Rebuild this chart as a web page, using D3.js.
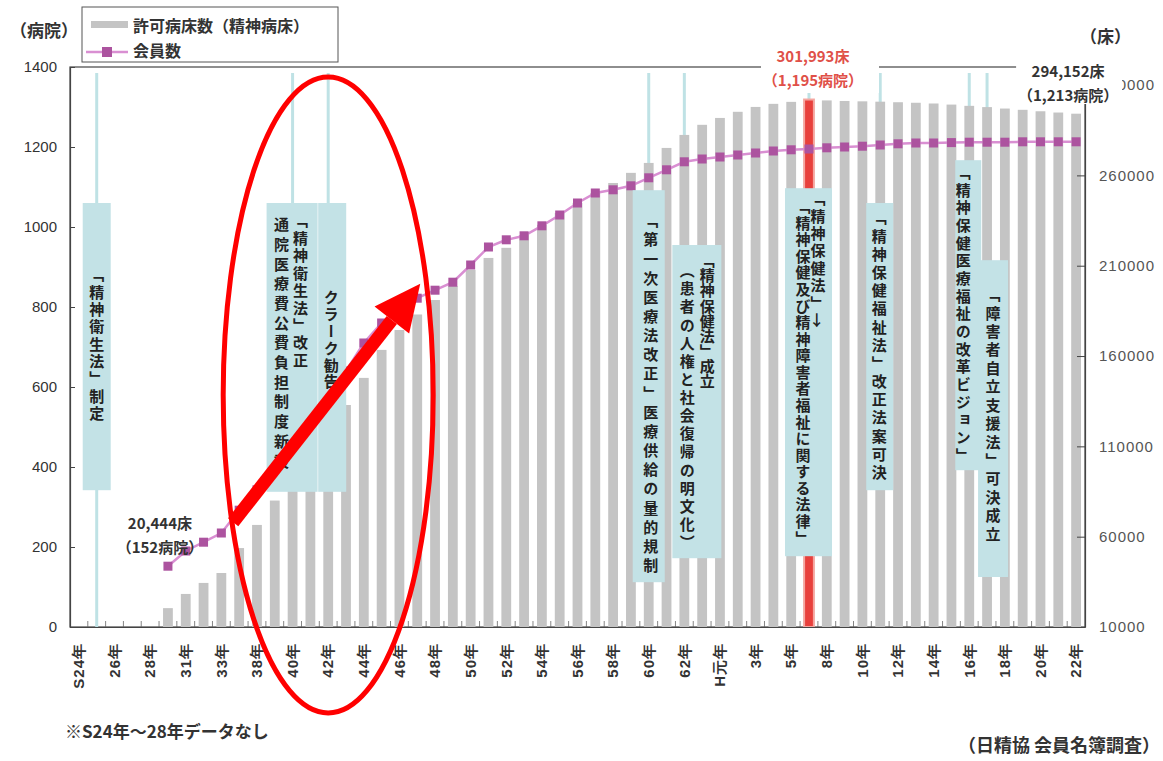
<!DOCTYPE html>
<html>
<head>
<meta charset="utf-8">
<script src="https://cdn.jsdelivr.net/npm/d3@7"></script>
<style>
  body { margin: 0; background: #fff; }
  svg { font-family: "Noto Sans CJK JP", "Noto Sans", sans-serif; }
</style>
</head>
<body>
<div id="chart"></div>
<script>
// categories (S = 昭和, H = 平成); only every other one is labelled
const years = ["S24年","25年","26年","27年","28年","29年","31年","32年","33年","35年",
  "38年","39年","40年","41年","42年","43年","44年","45年","46年","47年",
  "48年","49年","50年","51年","52年","53年","54年","55年","56年","57年",
  "58年","59年","60年","61年","62年","63年","H元年","2年","3年","4年",
  "5年","7年","8年","9年","10年","11年","12年","13年","14年","15年",
  "16年","17年","18年","19年","20年","21年","22年"];

// 許可病床数（精神病床） - right axis (床)
const beds = [null,null,null,null,null,20444,28300,34400,39900,53700,
  66500,80000,93000,106000,119000,132900,147900,163400,174400,183000,
  191000,198800,207700,214300,219900,227000,232600,239200,244800,250300,
  255800,261400,266900,275200,282400,288000,291800,295200,297900,299600,
  300700,301993,301500,301200,301000,300800,300500,300200,299800,299200,
  298500,297800,297000,296300,295500,294800,294152];

// 会員数 - left axis (病院)
const members = [null,null,null,null,null,152,190,212,235,292,
  343,413,470,530,585,640,710,760,790,822,
  842,862,905,950,968,978,1003,1030,1060,1085,
  1093,1103,1123,1143,1163,1170,1175,1180,1185,1190,
  1193,1195,1198,1200,1202,1205,1208,1210,1210,1211,
  1212,1212,1212,1213,1213,1213,1213];

const leftTicks = [0,200,400,600,800,1000,1200,1400];
const rightTicks = [10000,60000,110000,160000,210000,260000,310000];

const peakYear = "7年";

// events shown as blue boxes with vertical text
const events = [
  { year: "25年", cols: ["「精神衛生法」制定"] },
  { year: "40年", cols: ["「精神衛生法」改正", "通院医療費公費負担制度新設"] },
  { year: "42年", cols: ["クラーク勧告"] },
  { year: "60年", cols: ["「第一次医療法改正」医療供給の量的規制"] },
  { year: "62年", cols: ["「精神保健法」成立", "（患者の人権と社会復帰の明文化）"] },
  { year: "7年",  cols: ["「精神保健法」→", "「精神保健及び精神障害者福祉に関する法律」"] },
  { year: "11年", cols: ["「精神保健福祉法」改正法案可決"] },
  { year: "16年", cols: ["「精神保健医療福祉の改革ビジョン」"] },
  { year: "17年", cols: ["「障害者自立支援法」可決成立"] }
];

// layout of each event box: x offsets from the category centre, y in left-axis units
const eventLayout = [
  { x0: -14, x1: 14, top: 1060, bottom: 342, cols: [{ dx: 0, from: 900, to: 510 }] },
  { x0: -26, x1: 25, top: 1060, bottom: 338, cols: [{ dx: 8, from: 1035, to: 642 }, { dx: -11, from: 1025, to: 385 }] },
  { x0: -10, x1: 18, top: 1060, bottom: 338, cols: [{ dx: 3, from: 842, to: 590 }] },
  { x0: -16, x1: 16, top: 1092, bottom: 112, cols: [{ dx: 2, from: 1035, to: 125 }] },
  { x0: -12, x1: 37, top: 955, bottom: 172, cols: [{ dx: 23, from: 935, to: 595 }, { dx: 3, from: 910, to: 185 }] },
  { x0: -24, x1: 23, top: 1097, bottom: 177, cols: [{ dx: 9, from: 1090, to: 742 }, { dx: -6, from: 1070, to: 200 }] },
  { x0: -14, x1: 13, top: 1060, bottom: 342, cols: [{ dx: -1, from: 1042, to: 360 }] },
  { x0: -14, x1: 12, top: 1167, bottom: 392, cols: [{ dx: -6, from: 1155, to: 405 }] },
  { x0: -9, x1: 21, top: 917, bottom: 125, cols: [{ dx: 6, from: 850, to: 205 }] }
];

const W = 1163, H = 761;
const plot = { left: 70, right: 1085, top: 67, bottom: 627 };

const svg = d3.select("#chart").append("svg")
  .attr("width", W).attr("height", H);

const x = d3.scaleBand()
  .domain(years)
  .range([plot.left, plot.right])
  .paddingInner(0.45)
  .paddingOuter(0.225);
const xc = d => x(d) + x.bandwidth() / 2;

const yL = d3.scaleLinear().domain([0, 1400]).range([plot.bottom, plot.top]);
const yR = d3.scaleLinear().domain([10000, 320000]).range([plot.bottom, plot.top]);

// frame
svg.append("rect")
  .attr("x", plot.left).attr("y", plot.top)
  .attr("width", plot.right - plot.left).attr("height", plot.bottom - plot.top)
  .attr("fill", "none").attr("stroke", "#444").attr("stroke-width", 1.2);

// callout lines from the top of the plot down to the axis
svg.selectAll(".callout")
  .data(events)
  .enter().append("line")
  .attr("x1", d => xc(d.year)).attr("x2", d => xc(d.year))
  .attr("y1", yL(1385)).attr("y2", plot.bottom)
  .attr("stroke", "#bfe2e5").attr("stroke-width", 3);

// bars
const barData = years.map((y, i) => ({ year: y, v: beds[i] })).filter(d => d.v != null);
svg.selectAll(".bar")
  .data(barData)
  .enter().append("rect")
  .attr("x", d => x(d.year))
  .attr("width", x.bandwidth())
  .attr("y", d => yR(d.v))
  .attr("height", d => yR(10000) - yR(d.v))
  .attr("fill", d => d.year === peakYear ? "#e8403c" : "#c4c4c4")
  .attr("stroke", d => d.year === peakYear ? "#f4a6a0" : "none")
  .attr("stroke-width", 2);

// member line
const lineData = years.map((y, i) => ({ year: y, v: members[i] })).filter(d => d.v != null);
svg.append("path")
  .datum(lineData)
  .attr("fill", "none")
  .attr("stroke", "#d98fd2")
  .attr("stroke-width", 2.5)
  .attr("d", d3.line().x(d => xc(d.year)).y(d => yL(d.v)));

svg.selectAll(".pt")
  .data(lineData)
  .enter().append("rect")
  .attr("x", d => xc(d.year) - 4.5)
  .attr("y", d => yL(d.v) - 4.5)
  .attr("width", 9).attr("height", 9)
  .attr("fill", "#ac539f");

// axes
const axL = svg.append("g")
  .attr("transform", `translate(${plot.left},0)`)
  .call(d3.axisLeft(yL).tickValues(leftTicks).tickFormat(d3.format("d"))
    .tickSizeInner(-5).tickSizeOuter(0).tickPadding(13));
const axR = svg.append("g")
  .attr("transform", `translate(${plot.right},0)`)
  .call(d3.axisRight(yR).tickValues(rightTicks).tickFormat(d3.format("d"))
    .tickSizeInner(-8).tickSizeOuter(0).tickPadding(14));
[axL, axR].forEach(ax => {
  ax.select(".domain").attr("stroke", "#444").attr("stroke-width", 1.2);
  ax.selectAll(".tick line").attr("stroke", "#444");
  ax.selectAll(".tick text")
    .attr("fill", "#333")
    .style("font-family", "'Liberation Sans', Arial, sans-serif")
    .style("font-size", "15px");
});
axR.selectAll(".tick text").style("font-size", "15px").style("letter-spacing", "1px").attr("fill", "#555");

const axB = svg.append("g")
  .attr("transform", `translate(0,${plot.bottom})`)
  .call(d3.axisBottom(x).tickSizeInner(0).tickSizeOuter(0).tickPadding(0));
axB.select(".domain").attr("stroke", "#444").attr("stroke-width", 1.2);
axB.selectAll(".tick text")
  .text((d, i) => i % 2 === 0 ? d : "")
  .attr("transform", "rotate(-90)")
  .attr("text-anchor", "end")
  .attr("dy", "0.35em")
  .attr("x", -16)
  .attr("y", 0)
  .attr("fill", "#333")
  .style("font-size", "15px")
  .style("letter-spacing", "1px")
  .style("font-weight", "bold");
// small separators between categories
svg.selectAll(".sep")
  .data(years.slice(1))
  .enter().append("line")
  .attr("x1", d => x(d) - x.step() * x.paddingInner() / 2)
  .attr("x2", d => x(d) - x.step() * x.paddingInner() / 2)
  .attr("y1", plot.bottom - 6).attr("y2", plot.bottom)
  .attr("stroke", "#666").attr("stroke-width", 0.8);

// event boxes with vertical text
events.forEach((ev, i) => {
  const L = eventLayout[i];
  const cx = xc(ev.year);
  svg.append("rect")
    .attr("x", cx + L.x0).attr("y", yL(L.top))
    .attr("width", L.x1 - L.x0).attr("height", yL(L.bottom) - yL(L.top))
    .attr("fill", "#c3e2e6");
  ev.cols.forEach((t, j) => {
    const c = L.cols[j];
    const txt = svg.append("text")
      .attr("x", cx + c.dx).attr("y", yL(c.from))
      .style("writing-mode", "vertical-rl")
      .style("font-size", "15px")
      .style("font-weight", "bold")
      .attr("fill", "#222")
      .text(t);
    const target = yL(c.to) - yL(c.from);
    const natural = txt.node().getComputedTextLength();
    if (natural > target) {
      // shrink the font instead of squeezing the glyphs together
      txt.style("font-size", (15 * target / natural).toFixed(2) + "px");
    } else {
      txt.style("letter-spacing", ((target - natural) / t.length) + "px");
    }
  });
});

// value annotations
function label(lines, cx, y0, color, bg) {
  const g = svg.append("g");
  if (bg) {
    g.append("rect").attr("x", bg[0]).attr("y", bg[1]).attr("width", bg[2]).attr("height", bg[3]).attr("fill", "#fff");
  }
  lines.forEach((t, k) => {
    g.append("text")
      .attr("x", cx).attr("y", y0 + k * 24)
      .attr("text-anchor", "middle")
      .attr("fill", color)
      .style("font-size", "15px").style("font-weight", "bold")
      .text(t);
  });
}
const firstYear = barData[0].year;
label(["20,444床", "（152病院）"], xc(firstYear) - 8, 529, "#333");
label(["301,993床", "（1,195病院）"], xc(peakYear) + 4, 62, "#e05048",
  [xc(peakYear) - 48, 45, 118, 48]);
label(["294,152床", "（1,213病院）"], xc(years[years.length - 1]) - 8, 77, "#333",
  [xc(years[years.length - 1]) - 60, 60, 106, 44]);

// unit labels
svg.append("text").attr("x", 10).attr("y", 37)
  .style("font-size", "17px").style("font-weight", "bold").attr("fill", "#333")
  .text("（病院）");
svg.append("text").attr("x", 1080).attr("y", 43)
  .style("font-size", "17px").style("font-weight", "bold").attr("fill", "#333")
  .text("（床）");

// legend
const lg = svg.append("g");
lg.append("rect").attr("x", 82).attr("y", 7).attr("width", 256).attr("height", 55)
  .attr("fill", "#fff").attr("stroke", "#555");
lg.append("rect").attr("x", 91).attr("y", 21).attr("width", 37).attr("height", 7).attr("fill", "#c4c4c4");
lg.append("text").attr("x", 133).attr("y", 32)
  .style("font-size", "16px").style("font-weight", "bold").attr("fill", "#333")
  .text("許可病床数（精神病床）");
lg.append("line").attr("x1", 86).attr("x2", 128).attr("y1", 52).attr("y2", 52)
  .attr("stroke", "#d98fd2").attr("stroke-width", 2.5);
lg.append("rect").attr("x", 102).attr("y", 47).attr("width", 10).attr("height", 10).attr("fill", "#ac539f");
lg.append("text").attr("x", 133).attr("y", 57)
  .style("font-size", "16px").style("font-weight", "bold").attr("fill", "#333")
  .text("会員数");

// footnotes
svg.append("text").attr("x", 65).attr("y", 738)
  .style("font-size", "17px").style("font-weight", "bold").attr("fill", "#333")
  .text("※S24年～28年データなし");
svg.append("text").attr("x", 1160).attr("y", 752).attr("text-anchor", "end")
  .style("font-size", "18px").style("font-weight", "bold").attr("fill", "#333")
  .text("（日精協 会員名簿調査）");

// red highlight overlay: ellipse and arrow
svg.append("ellipse")
  .attr("cx", xc("42年")).attr("cy", yL(580))
  .attr("rx", 105).attr("ry", 318)
  .attr("fill", "none").attr("stroke", "#f00").attr("stroke-width", 5);

const ax0 = xc("35年") - 6, ay0 = yL(262);
const ax1 = xc("47年") + 3, ay1 = yL(858);
const ang = Math.atan2(ay1 - ay0, ax1 - ax0);
const headLen = 46, headW = 22;
const bx = ax1 - headLen * Math.cos(ang), by = ay1 - headLen * Math.sin(ang);
svg.append("line")
  .attr("x1", ax0).attr("y1", ay0).attr("x2", bx).attr("y2", by)
  .attr("stroke", "#f00").attr("stroke-width", 13);
svg.append("path")
  .attr("d", `M${ax1},${ay1} L${bx + headW * Math.sin(ang)},${by - headW * Math.cos(ang)} L${bx - headW * Math.sin(ang)},${by + headW * Math.cos(ang)} Z`)
  .attr("fill", "#f00");
</script>
</body>
</html>
